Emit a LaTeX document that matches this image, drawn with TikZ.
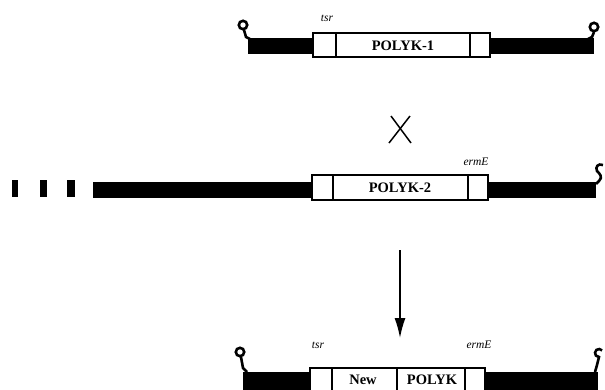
\documentclass[tikz,border=0pt]{standalone}
\usepackage{fontspec}
\setmainfont{Liberation Serif}
\usetikzlibrary{arrows.meta,calc}
\begin{document}
\begin{tikzpicture}[x=1pt,y=-1pt,
  bar/.style={fill=black,draw=black,line width=0.6pt},
  segbox/.style={draw=black,fill=white,line width=1.4pt},
  polytxt/.style={font=\fontsize{14.5}{14.5}\selectfont\bfseries,inner sep=0pt},
  genelbl/.style={font=\fontsize{11.5}{11.5}\selectfont\itshape,inner sep=0pt},
  endloop/.style={draw=black,line width=2.6pt,fill=white},
  endline/.style={draw=black,line width=2.6pt}]
\clip (0,0) rectangle (605,389);
% ---------- Row 1 ----------
\fill[bar] (248,38) rectangle (313,53);
\fill[bar] (490,38) rectangle (593,53);
\draw[segbox] (313,33) rectangle (490,57);
\draw[segbox] (336,33) -- (336,57);
\draw[segbox] (470,33) -- (470,57);
\node[polytxt] (p1) at (403,46) {POLYK-1};
\node[genelbl] (tsr1) at (327,18) {tsr};
\draw[endline] (244,30) -- (246,37) -- (250,39);
\draw[endloop] (243,25) circle (4.2);
\draw[endline] (594,32) -- (592,37) -- (588,39);
\draw[endloop] (594,27) circle (4.2);
% ---------- cross ----------
\coordinate (xc) at (400,130);
\draw[line width=1.5pt] (391,116) -- (411,143);
\draw[line width=1.5pt] (410,116) -- (389,143);
% ---------- Row 2 ----------
\fill[bar] (12,180) rectangle (17,196);
\fill[bar] (40,180) rectangle (46,196);
\fill[bar] (67,180) rectangle (74,196);
\fill[bar] (93,182) rectangle (312,197);
\fill[bar] (488,182) rectangle (595,197);
\draw[segbox] (312,175) rectangle (488,200);
\draw[segbox] (333,175) -- (333,200);
\draw[segbox] (468,175) -- (468,200);
\node[polytxt] (p2) at (400,188) {POLYK-2};
\node[genelbl] (erm2) at (476,162) {ermE};
\draw[endline] (603,165) .. controls (598,163) and (595,167) .. (597,171)
  .. controls (600,174) and (603,177) .. (599,181) -- (596,184);
% ---------- arrow ----------
\coordinate (atop) at (400,250);
\coordinate (abot) at (400,338);
\draw[line width=1.5pt,-{Latex[length=20pt,width=11pt]}] (atop) -- (abot);
% ---------- Row 3 ----------
\fill[bar] (243,372) rectangle (310,392);
\fill[bar] (485,372) rectangle (597,392);
\draw[segbox] (310,368) rectangle (485,395);
\draw[segbox] (332,368) -- (332,395);
\draw[segbox] (397,368) -- (397,395);
\draw[segbox] (465,368) -- (465,395);
\node[polytxt] (new) at (363,380) {New};
\node[polytxt] (p3) at (432,380) {POLYK};
\node[genelbl] (tsr3) at (318,345) {tsr};
\node[genelbl] (erm3) at (479,345) {ermE};
\draw[endline] (241,357) -- (243,368) -- (247,372);
\draw[endloop] (240,352) circle (4.2);
\draw[endline] ($(599,353)+(320:4)$) arc (320:90:4) -- (597,365) -- (595,372);
\end{tikzpicture}
\end{document}
